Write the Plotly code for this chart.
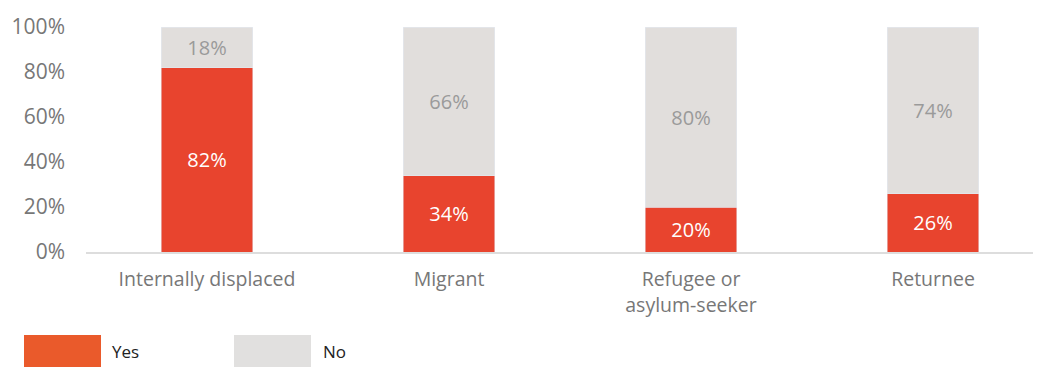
import plotly.graph_objects as go

categories = ["Internally displaced", "Migrant", "Refugee or<br>asylum-seeker", "Returnee"]
yes_vals = [82, 34, 20, 26]
no_vals = [18, 66, 80, 74]
tick_vals = [0, 20, 40, 60, 80, 100]
tick_text = ["0%", "20%", "40%", "60%", "80%", "100%"]

FONT = "Open Sans, sans-serif"
OFF = 8  # page body margin
W, H = 1041 - OFF, 367 - OFF
# screen-pixel targets
S_LEFT, S_RIGHT, S_TOP, S_BOTTOM = 86, 1040, 27, 252
ML = S_LEFT - OFF
MR = W - (S_RIGHT - OFF)
MT = S_TOP - OFF
MB = H - (S_BOTTOM - OFF)
PW, PH = W - ML - MR, H - MT - MB
CAT_PX = 242  # pixels per category slot
x_range = [-0.5, -0.5 + PW / CAT_PX]

fig = go.Figure()
fig.add_trace(go.Bar(
    x=categories, y=yes_vals, name="Yes", marker_color="#E8442E",
    text=[f"{v}%" for v in yes_vals], textposition="inside", insidetextanchor="middle",
    textfont=dict(color="white", size=20, family=FONT), hoverinfo="skip",
))
fig.add_trace(go.Bar(
    x=categories, y=no_vals, name="No", marker_color="#E1DEDC",
    text=[f"{v}%" for v in no_vals], textposition="inside", insidetextanchor="middle",
    textfont=dict(color="#9A9A9A", size=20, family=FONT), hoverinfo="skip",
))

def px_x(p):
    return (p - S_LEFT) / PW

def px_y(p):
    return (S_BOTTOM - p) / PH

legend_items = [("Yes", "#EA5A2B", 24, 101, 110), ("No", "#E1E0DF", 234, 311, 321)]
for name, col, x0, x1, tx in legend_items:
    fig.add_shape(type="rect", xref="paper", yref="paper",
                  x0=px_x(x0), x1=px_x(x1), y0=px_y(367), y1=px_y(335),
                  fillcolor=col, line_width=0, layer="above")
    fig.add_annotation(xref="paper", yref="paper", x=px_x(tx), y=px_y(351),
                       text=name, showarrow=False, xanchor="left", yanchor="middle",
                       font=dict(size=17, color="#222", family=FONT))

fig.update_layout(
    barmode="stack", bargap=0.62, showlegend=False,
    width=W, height=H, margin=dict(l=ML, r=MR, t=MT, b=MB),
    plot_bgcolor="white", paper_bgcolor="white",
    font=dict(family=FONT, color="#777"),
    xaxis=dict(range=x_range, showline=True, linecolor="#DDDDDD", linewidth=2, showgrid=False,
               ticks="", tickfont=dict(size=19.5, color="#777", family=FONT), ticklabelstandoff=9),
    yaxis=dict(range=[0, 100], tickvals=tick_vals, ticktext=tick_text, showgrid=False,
               zeroline=False, showline=False, ticks="",
               tickfont=dict(size=21, color="#777", family=FONT), ticklabelstandoff=20),
    uniformtext=dict(mode=False),
)

fig.write_html("out.html")
